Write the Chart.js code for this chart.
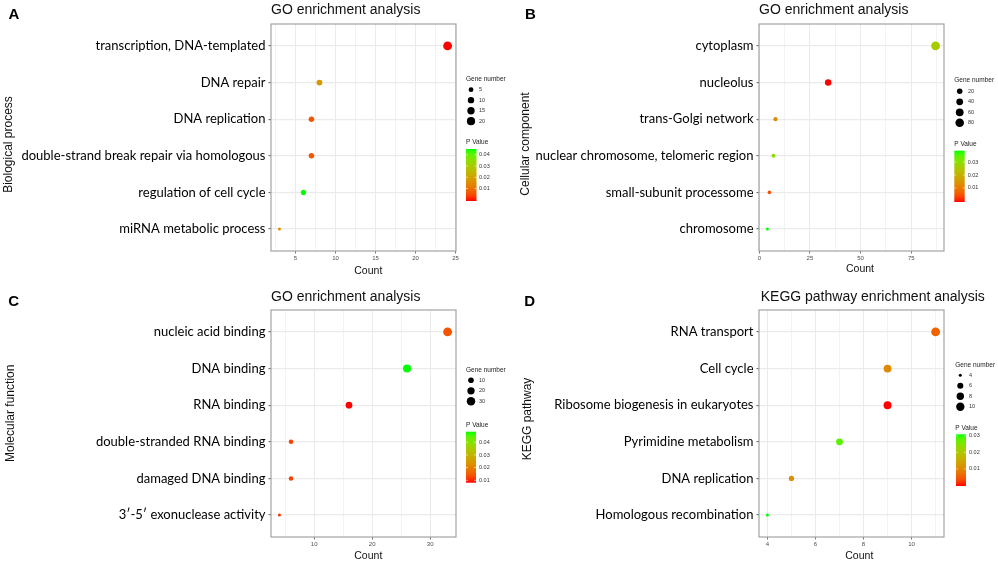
<!DOCTYPE html>
<html>
<head>
<meta charset="utf-8">
<script src="https://cdn.jsdelivr.net/npm/chart.js@4.4.1/dist/chart.umd.min.js"></script>
<style>
  html, body { margin: 0; padding: 0; background: #fff; }
  #fig { position: relative; width: 998px; height: 563px; overflow: hidden; }
  #fig canvas { position: absolute; }
</style>
</head>
<body>
<div id="fig">
  <canvas id="chartA" width="520" height="280" style="left:0;top:0"></canvas>
  <canvas id="chartB" width="499" height="280" style="left:499px;top:0"></canvas>
  <canvas id="chartC" width="520" height="283" style="left:0;top:280px"></canvas>
  <canvas id="chartD" width="499" height="283" style="left:499px;top:280px"></canvas>
</div>
<script>
// Panel A - biological process
const termsA = ["transcription, DNA-templated", "DNA repair", "DNA replication",
  "double-strand break repair via homologous", "regulation of cell cycle", "miRNA metabolic process"];
const countsA = [24, 8, 7, 7, 6, 3];
const pvalsA = [0.0001, 0.018, 0.006, 0.006, 0.044, 0.016];
const geneBreaksA = [5, 10, 15, 20];
const pTicksA = [0.01, 0.02, 0.03, 0.04];

// Panel B - cellular component
const termsB = ["cytoplasm", "nucleolus", "trans-Golgi network",
  "nuclear chromosome, telomeric region", "small-subunit processome", "chromosome"];
const countsB = [87, 34, 8, 7, 5, 4];
const pvalsB = [0.026, 0.0002, 0.013, 0.030, 0.005, 0.0377];
const geneBreaksB = [20, 40, 60, 80];
const pTicksB = [0.01, 0.02, 0.03];

// Panel C - molecular function
const termsC = ["nucleic acid binding", "DNA binding", "RNA binding",
  "double-stranded RNA binding", "damaged DNA binding", "3\u2032-5\u2032 exonuclease activity"];
const countsC = [33, 26, 16, 6, 6, 4];
const pvalsC = [0.014, 0.0474, 0.0091, 0.012, 0.012, 0.011];
const geneBreaksC = [10, 20, 30];
const pTicksC = [0.01, 0.02, 0.03, 0.04];

// Panel D - KEGG pathway
const termsD = ["RNA transport", "Cell cycle", "Ribosome biogenesis in eukaryotes",
  "Pyrimidine metabolism", "DNA replication", "Homologous recombination"];
const countsD = [11, 9, 9, 7, 5, 4];
const pvalsD = [0.0055, 0.0103, 0.0004, 0.028, 0.011, 0.0302];
const geneBreaksD = [4, 6, 8, 10];
const pTicksD = [0.01, 0.02, 0.03];

const SANS = '"Liberation Sans", Arial, sans-serif';
const LABEL_FONT = 'Lato';

// red -> green gradient interpolated in Lab, like ggplot
const toLin = c => { c /= 255; return c <= 0.04045 ? c / 12.92 : Math.pow((c + 0.055) / 1.055, 2.4); };
const toSrgb = c => { c = c <= 0.0031308 ? 12.92 * c : 1.055 * Math.pow(c, 1 / 2.4) - 0.055; return Math.round(Math.min(1, Math.max(0, c)) * 255); };
const rgbToLab = ([r, g, b]) => {
  r = toLin(r); g = toLin(g); b = toLin(b);
  const X = (0.4124 * r + 0.3576 * g + 0.1805 * b) / 0.95047;
  const Y = 0.2126 * r + 0.7152 * g + 0.0722 * b;
  const Z = (0.0193 * r + 0.1192 * g + 0.9505 * b) / 1.08883;
  const f = t => t > 0.008856 ? Math.cbrt(t) : 7.787 * t + 16 / 116;
  return [116 * f(Y) - 16, 500 * (f(X) - f(Y)), 200 * (f(Y) - f(Z))];
};
const labToRgb = ([L, a, b]) => {
  const fy = (L + 16) / 116, fx = fy + a / 500, fz = fy - b / 200;
  const inv = t => t > 0.206893 ? t * t * t : (t - 16 / 116) / 7.787;
  const X = inv(fx) * 0.95047, Y = inv(fy), Z = inv(fz) * 1.08883;
  const r = 3.2406 * X - 1.5372 * Y - 0.4986 * Z;
  const g = -0.9689 * X + 1.8758 * Y + 0.0415 * Z;
  const bl = 0.0557 * X - 0.2040 * Y + 1.0570 * Z;
  return `rgb(${toSrgb(r)},${toSrgb(g)},${toSrgb(bl)})`;
};
const LOW = rgbToLab([255, 0, 0]);
const HIGH = rgbToLab([0, 255, 0]);
const gradColor = t => {
  t = Math.min(1, Math.max(0, t));
  return labToRgb(LOW.map((v, i) => v + (HIGH[i] - v) * t));
};

const buildChart = (id, terms, counts, pvals, geneBreaks, pTicks, step, panel) => {
  const canvas = document.getElementById(id);
  const W = canvas.width, H = canvas.height;
  const cMin = Math.min(...counts), cMax = Math.max(...counts);
  const pMin = Math.min(...pvals), pMax = Math.max(...pvals);
  const pad = (cMax - cMin) * 0.05;
  const xMin = cMin - pad, xMax = cMax + pad;
  const sizeOf = v => 1.5 + 2.9 * Math.sqrt((v - cMin) / (cMax - cMin));
  const colorOf = p => gradColor((p - pMin) / (pMax - pMin));
  const isMajor = v => Math.abs(v / step - Math.round(v / step)) < 1e-6;

  const decor = {
    id: 'decor',
    beforeDatasetsDraw(chart) {
      const a = chart.chartArea, ctx = chart.ctx;
      ctx.save();
      ctx.strokeStyle = '#a3a3a3';
      ctx.lineWidth = 1.2;
      ctx.strokeRect(a.left, a.top, a.right - a.left, a.bottom - a.top);
      ctx.restore();
    },
    afterDraw(chart) {
      const ctx = chart.ctx;
      ctx.save();
      ctx.fillStyle = '#000';
      ctx.textBaseline = 'alphabetic';
      ctx.textAlign = 'left';
      // panel letter + title
      ctx.font = 'bold 15px ' + SANS;
      ctx.fillText(panel.letter, panel.letterPos[0], panel.letterPos[1]);
      ctx.font = '14px ' + SANS;
      ctx.fillStyle = '#111';
      ctx.fillText(panel.title, panel.titlePos[0], panel.titlePos[1]);
      // x axis title
      ctx.font = '10.5px ' + SANS;
      ctx.textAlign = 'center';
      ctx.fillText('Count', panel.countPos[0], panel.countPos[1]);
      // y axis title
      ctx.save();
      ctx.translate(panel.yTitlePos[0], panel.yTitlePos[1]);
      ctx.rotate(-Math.PI / 2);
      ctx.font = '12px ' + SANS;
      ctx.textBaseline = 'middle';
      ctx.fillText(panel.yTitle, 0, 0);
      ctx.restore();

      // size legend
      const lg = panel.legend;
      ctx.textAlign = 'left';
      ctx.textBaseline = 'alphabetic';
      ctx.font = '6.5px ' + SANS;
      ctx.fillStyle = '#222';
      ctx.fillText('Gene number', lg.gTitle[0], lg.gTitle[1]);
      geneBreaks.forEach((b, i) => {
        const y = lg.dotY0 + i * 10.5;
        ctx.fillStyle = '#000';
        ctx.beginPath();
        ctx.arc(lg.dotX, y, sizeOf(b), 0, Math.PI * 2);
        ctx.fill();
        ctx.fillStyle = '#333';
        ctx.font = '5.5px ' + SANS;
        ctx.textBaseline = 'middle';
        ctx.fillText(String(b), lg.labelX, y);
        ctx.textBaseline = 'alphabetic';
      });

      // colour bar legend
      ctx.font = '6.5px ' + SANS;
      ctx.fillStyle = '#222';
      ctx.fillText('P Value', lg.pTitle[0], lg.pTitle[1]);
      const [bx, by, bw, bh] = lg.bar;
      const half = (pMax - pMin) * 0.5 / 19;
      const lo = pMin - half, hi = pMax + half;
      const grad = ctx.createLinearGradient(0, by + bh, 0, by);
      for (let k = 0; k <= 20; k++) {
        const v = lo + (hi - lo) * k / 20;
        grad.addColorStop(k / 20, colorOf(v));
      }
      ctx.fillStyle = grad;
      ctx.fillRect(bx, by, bw, bh);
      ctx.font = '5.5px ' + SANS;
      ctx.textBaseline = 'middle';
      pTicks.forEach(v => {
        const y = by + bh - (v - lo) / (hi - lo) * bh;
        ctx.strokeStyle = 'rgba(255,255,255,0.9)';
        ctx.lineWidth = 0.6;
        ctx.beginPath();
        ctx.moveTo(bx, y); ctx.lineTo(bx + 2, y);
        ctx.moveTo(bx + bw - 2, y); ctx.lineTo(bx + bw, y);
        ctx.stroke();
        ctx.fillStyle = '#333';
        ctx.fillText(v.toFixed(2), lg.barLabelX, y);
      });
      ctx.restore();
    }
  };

  return new Chart(canvas, {
    type: 'scatter',
    plugins: [decor],
    data: {
      datasets: [{
        data: counts.map((c, i) => ({ x: c, y: i + 1 })),
        pointRadius: ctx => ctx.dataIndex === undefined ? 3 : sizeOf(counts[ctx.dataIndex]),
        pointBackgroundColor: ctx => ctx.dataIndex === undefined ? '#000' : colorOf(pvals[ctx.dataIndex]),
        pointBorderWidth: 0,
        pointBorderColor: 'rgba(0,0,0,0)',
      }],
    },
    options: {
      responsive: false,
      animation: false,
      events: [],
      layout: { padding: { left: 0, top: panel.plot.top, right: W - panel.plot.right, bottom: 0 } },
      plugins: { legend: { display: false }, tooltip: { enabled: false } },
      scales: {
        x: {
          type: 'linear',
          min: xMin,
          max: xMax,
          bounds: 'data',
          afterBuildTicks: s => {
            const h = step / 2, t = [];
            for (let v = Math.ceil(xMin / h) * h; v <= xMax + 1e-9; v += h) t.push({ value: +v.toFixed(6) });
            s.ticks = t;
          },
          afterFit: s => { s.height = H - panel.plot.bottom; },
          border: { display: false },
          grid: {
            color: '#ebebeb',
            lineWidth: c => (c.tick && !isMajor(c.tick.value)) ? 0.6 : 1,
            tickColor: c => (c.tick && !isMajor(c.tick.value)) ? 'rgba(0,0,0,0)' : '#555',
            tickLength: 2.5,
            tickWidth: 0.8,
          },
          ticks: {
            autoSkip: false,
            maxRotation: 0,
            padding: 1,
            color: '#4d4d4d',
            font: { family: SANS, size: 6 },
            callback: v => isMajor(v) ? String(v) : '',
          },
        },
        y: {
          type: 'linear',
          reverse: true,
          min: 0.4,
          max: terms.length + 0.6,
          bounds: 'data',
          afterBuildTicks: s => { s.ticks = terms.map((_, i) => ({ value: i + 1 })); },
          afterFit: s => { s.width = panel.plot.left; },
          border: { display: false },
          grid: { color: '#ebebeb', lineWidth: 1.3, tickColor: '#333', tickLength: 2.5, tickWidth: 0.8 },
          ticks: {
            autoSkip: false,
            padding: 3,
            color: '#000',
            font: { family: LABEL_FONT, size: 13 },
            callback: v => terms[v - 1] ?? '',
          },
        },
      },
    },
  });
};

buildChart('chartA', termsA, countsA, pvalsA, geneBreaksA, pTicksA, 5, {
  letter: 'A', letterPos: [8.5, 18.5],
  title: 'GO enrichment analysis', titlePos: [271, 14],
  yTitle: 'Biological process', yTitlePos: [9, 144.5],
  countPos: [368.3, 274],
  plot: { left: 271, right: 456, top: 24, bottom: 251 },
  legend: { gTitle: [466, 80.5], dotX: 471, dotY0: 89.7, labelX: 479,
    pTitle: [466, 144], bar: [466, 149, 10.5, 52], barLabelX: 479 },
});

buildChart('chartB', termsB, countsB, pvalsB, geneBreaksB, pTicksB, 25, {
  letter: 'B', letterPos: [26, 18.5],
  title: 'GO enrichment analysis', titlePos: [260, 13.5],
  yTitle: 'Cellular component', yTitlePos: [27, 144],
  countPos: [361, 271.7],
  plot: { left: 260, right: 445, top: 24, bottom: 251 },
  legend: { gTitle: [455.3, 82], dotX: 460.7, dotY0: 91.3, labelX: 469,
    pTitle: [455.3, 146], bar: [455.3, 150.7, 10.4, 51.3], barLabelX: 468.7 },
});

buildChart('chartC', termsC, countsC, pvalsC, geneBreaksC, pTicksC, 10, {
  letter: 'C', letterPos: [8.3, 26],
  title: 'GO enrichment analysis', titlePos: [271, 20.7],
  yTitle: 'Molecular function', yTitlePos: [11, 133.3],
  countPos: [368.3, 278.7],
  plot: { left: 271, right: 456, top: 30, bottom: 257 },
  legend: { gTitle: [466, 91.5], dotX: 471, dotY0: 100.3, labelX: 479,
    pTitle: [466, 147], bar: [466, 151.7, 10, 51], barLabelX: 479 },
});

buildChart('chartD', termsD, countsD, pvalsD, geneBreaksD, pTicksD, 2, {
  letter: 'D', letterPos: [25.3, 26],
  title: 'KEGG pathway enrichment analysis', titlePos: [261.7, 20.7],
  yTitle: 'KEGG pathway', yTitlePos: [28.5, 139],
  countPos: [360.3, 279.3],
  plot: { left: 260, right: 445, top: 30, bottom: 257 },
  legend: { gTitle: [456.3, 86.5], dotX: 461.3, dotY0: 95.3, labelX: 470,
    pTitle: [456.3, 150], bar: [457, 154.3, 10, 51.7], barLabelX: 470 },
});
</script>
</body>
</html>
